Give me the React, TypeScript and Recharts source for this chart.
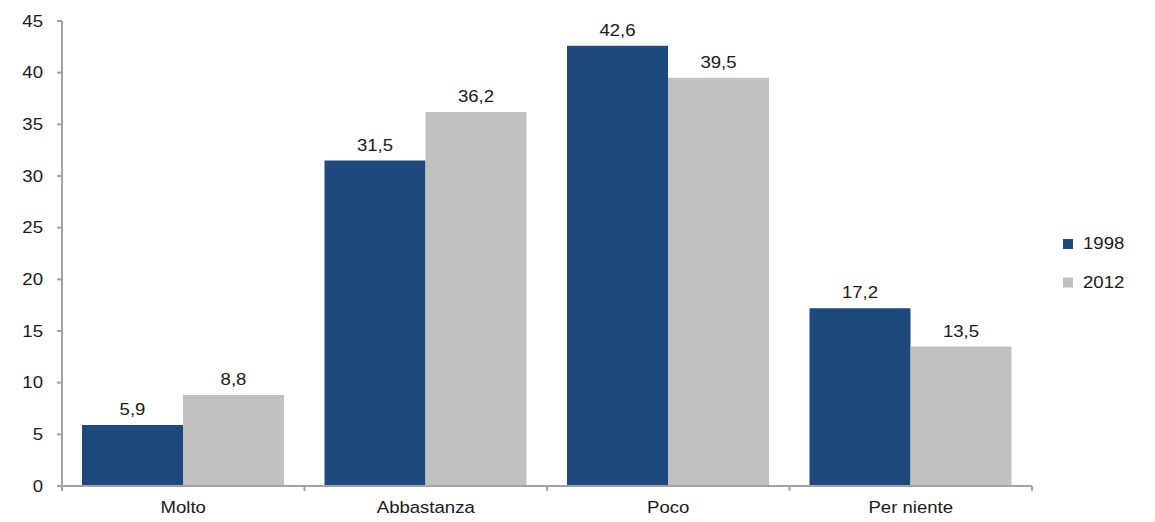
import React from 'react';
import { BarChart, Bar, XAxis, YAxis, LabelList } from 'recharts';

const categories = ['Molto', 'Abbastanza', 'Poco', 'Per niente'];
const values1998 = [5.9, 31.5, 42.6, 17.2];
const values2012 = [8.8, 36.2, 39.5, 13.5];
const yTicks = [0, 5, 10, 15, 20, 25, 30, 35, 40, 45];

const COLORS = {
  y1998: '#1f497d',
  y2012: '#c0c0c0',
  axis: '#a3a3a3',
  text: '#1a1a1a',
};

const WIDTH = 1155;
const HEIGHT = 522;
const Y_AXIS_W = 62;
const MARGIN = { top: 21, right: 123, bottom: 0, left: 0 };
const X_AXIS_H = 36;
const PLOT_BOTTOM = HEIGHT - MARGIN.bottom - X_AXIS_H;
const BAND = (WIDTH - MARGIN.left - Y_AXIS_W - MARGIN.right) / categories.length;

const FONT = '"Liberation Sans", Arial, sans-serif';
const STRETCH = 1.16;

const data = categories.map((name, i) => ({
  name,
  y1998: values1998[i],
  y2012: values2012[i],
}));

const fmt = (v: number) => v.toFixed(1).replace('.', ',');

function StretchedText({ x, y, anchor, children }: any) {
  return (
    <text
      transform={`translate(${x},${y}) scale(${STRETCH},1)`}
      textAnchor={anchor}
      fontFamily={FONT}
      fontSize={16}
      fill={COLORS.text}
    >
      {children}
    </text>
  );
}

function YTick({ x, y, payload }: any) {
  return (
    <StretchedText x={x} y={y + 5.5} anchor="end">
      {payload.value}
    </StretchedText>
  );
}

function XTick({ x, payload, index }: any) {
  const left = x - BAND / 2;
  const last = index === categories.length - 1;
  return (
    <g>
      <line x1={left} x2={left} y1={PLOT_BOTTOM} y2={PLOT_BOTTOM + 5} stroke={COLORS.axis} strokeWidth={2} />
      {last && (
        <line x1={x + BAND / 2} x2={x + BAND / 2} y1={PLOT_BOTTOM} y2={PLOT_BOTTOM + 5} stroke={COLORS.axis} strokeWidth={2} />
      )}
      <StretchedText x={x} y={PLOT_BOTTOM + 27} anchor="middle">
        {payload.value}
      </StretchedText>
    </g>
  );
}

function ValueLabel({ x, y, width, value }: any) {
  return (
    <StretchedText x={x + width / 2} y={y - 10} anchor="middle">
      {fmt(value)}
    </StretchedText>
  );
}

function LegendBox() {
  const items = [
    { label: '1998', color: COLORS.y1998, base: 249 },
    { label: '2012', color: COLORS.y2012, base: 287.5 },
  ];
  return (
    <svg width={WIDTH} height={HEIGHT} style={{ position: 'absolute', left: 0, top: 0, pointerEvents: 'none' }}>
      {items.map((it) => (
        <g key={it.label}>
          <rect x={1063} y={it.base - 10} width={10} height={10} fill={it.color} />
          <StretchedText x={1083} y={it.base} anchor="start">
            {it.label}
          </StretchedText>
        </g>
      ))}
    </svg>
  );
}

export default function App() {
  return (
    <div style={{ position: 'absolute', left: 0, top: 0, width: WIDTH, height: HEIGHT, background: '#fff' }}>
      <BarChart width={WIDTH} height={HEIGHT} data={data} margin={MARGIN} barCategoryGap={20} barGap={0}>
        <XAxis
          dataKey="name"
          height={X_AXIS_H}
          tickLine={false}
          axisLine={{ stroke: COLORS.axis, strokeWidth: 2 }}
          tick={<XTick />}
          interval={0}
        />
        <YAxis
          width={Y_AXIS_W}
          domain={[0, 45]}
          ticks={yTicks}
          interval={0}
          tickSize={5}
          tickMargin={14}
          tickLine={{ stroke: COLORS.axis, strokeWidth: 2 }}
          axisLine={{ stroke: COLORS.axis, strokeWidth: 2 }}
          tick={<YTick />}
        />
        <Bar dataKey="y1998" fill={COLORS.y1998} isAnimationActive={false}>
          <LabelList dataKey="y1998" content={<ValueLabel />} />
        </Bar>
        <Bar dataKey="y2012" fill={COLORS.y2012} isAnimationActive={false}>
          <LabelList dataKey="y2012" content={<ValueLabel />} />
        </Bar>
      </BarChart>
      <LegendBox />
    </div>
  );
}
